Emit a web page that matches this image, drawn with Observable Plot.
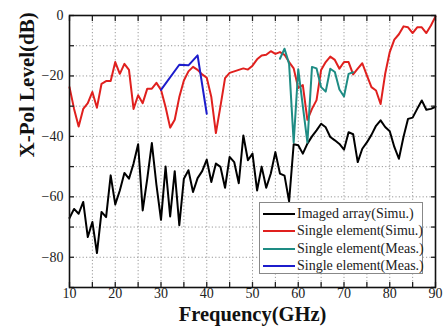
<!DOCTYPE html>
<html>
<head>
<meta charset="utf-8">
<script src="https://cdn.jsdelivr.net/npm/d3@7"></script>
<script src="https://cdn.jsdelivr.net/npm/@observablehq/plot@0.6"></script>
<style>
  body { margin: 0; background: #fff; }
  #wrap { position: relative; width: 445px; height: 330px; }
  #legend {
    position: absolute; left: 259px; top: 202px; width: 164px; height: 72px;
    border: 1.5px solid #888; background: #fff; box-sizing: border-box;
    font-family: "Liberation Serif", "Times New Roman", Times, serif; font-size: 14px; color: #222;
    padding-top: 2px;
  }
  .row { display: flex; align-items: center; height: 17.5px; white-space: nowrap; }
  .sw { width: 32px; height: 2px; margin-left: 3px; margin-right: 2px; flex: none; }
</style>
</head>
<body>
<div id="wrap"><div id="legend"></div></div>
<script>
const freqAll = d3.range(10, 91);
const imagedArray = [-67, -64, -65.6, -61.7, -73.3, -68.3, -78.6, -65, -66.7, -52.9,
  -62.5, -57.9, -52.1, -54, -49, -42.6, -64.5, -54, -42.2, -56,
  -67.6, -50, -66.5, -51.5, -69.4, -54, -51.2, -58.4, -53.8, -51.5,
  -47.7, -55.1, -49, -50.1, -57, -46.8, -48.5, -55.5, -39.7, -47.9,
  -45.7, -57.9, -50, -57, -52.3, -45.2, -52.3, -53, -61.5, -42.6,
  -42.9, -45.7, -42.4, -40, -38, -35.8, -37, -40.2, -41.3, -42.5,
  -44.4, -38.6, -39.3, -48.5, -44.1, -42, -39.5, -36.5, -34.7, -36.9,
  -38.3, -43.5, -47.4, -40.2, -34.2, -33.8, -30.9, -28.1, -31.2, -30.9, -30.2];
const singleSimu = [-23.7, -30.9, -36.7, -30.9, -29, -25.3, -30.5, -22.6, -21.7, -21.7,
  -15.4, -19.3, -16, -18, -30.9, -26.4, -29, -24.2, -24.2, -22.3,
  -24.6, -30.3, -37.1, -34.5, -27, -21.5, -18.5, -17, -18, -19.5,
  -20.6, -27, -38.9, -30, -20.7, -19, -18.5, -18, -17.5, -17.9,
  -16.6, -14.5, -13.2, -13, -11.8, -12.7, -12.1, -13, -15.4, -17.5,
  -24, -23, -34.5, -30.9, -28, -18, -15.4, -13.6, -14.7, -17.6,
  -15.4, -15.4, -19.5, -17.6, -15.8, -19.8, -23.7, -24.8, -29.3, -19.3,
  -12.1, -8, -6.2, -3.6, -3.9, -5.8, -3.9, -3.9, -5.8, -3.3, -0.3];
const freqMeasV = [56, 57, 58, 59, 60, 61, 62, 63, 64, 65, 66, 67, 68, 69, 70, 71, 72];
const measV = [-14.3, -11, -16, -42, -17.8, -30, -42, -17, -17.5, -23.7, -25.2, -17.6, -18.7, -24.5, -26.8, -19.3, -18.8];
const freqMeasB = [30, 34, 36, 38, 40];
const measB = [-24.6, -16.3, -16.5, -13.2, -32.5];

const seriesNames = ["Imaged array(Simu.)", "Single element(Simu.)", "Single element(Meas.)", "Single element(Meas.)"];
const seriesColors = ["#000000", "#e0201e", "#1e8c84", "#1c1ccc"];
const xTicks = d3.range(10, 91, 5);
const xLabels = d3.range(10, 91, 10);
const yTicks = d3.range(-90, 1, 10);
const yLabels = d3.range(-80, 1, 20);
const xLabel = "Frequency(GHz)";
const yLabel = "X-Pol Level(dB)";

const toRows = (xs, ys) => xs.map((x, i) => ({x, y: ys[i]}));
const sets = [toRows(freqAll, imagedArray), toRows(freqAll, singleSimu), toRows(freqMeasV, measV), toRows(freqMeasB, measB)];

const font = "'Liberation Serif', 'Times New Roman', Times, serif";
const noLabel = () => "";
const chart = Plot.plot({
  width: 445, height: 330,
  marginLeft: 69, marginRight: 10, marginTop: 15, marginBottom: 43,
  style: {fontFamily: font, background: "#fff", color: "#222"},
  x: {domain: [10, 90]},
  y: {domain: [-90, 0]},
  marks: [
    Plot.ruleX(xTicks.filter(d => d > 10 && d < 90), {stroke: "#999", strokeDasharray: "1.2,2.2", strokeWidth: 1}),
    Plot.ruleY(yTicks.filter(d => d > -90 && d < 0), {stroke: "#999", strokeDasharray: "1.2,2.2", strokeWidth: 1}),
    ...sets.map((s, i) => Plot.line(s, {x: "x", y: "y", stroke: seriesColors[i], strokeWidth: 2, strokeLinejoin: "round"})),
    Plot.axisX({anchor: "bottom", ticks: xTicks, tickSize: -5, tickFormat: noLabel, label: null, strokeWidth: 1.3}),
    Plot.axisX({anchor: "bottom", ticks: xLabels, tickSize: 0, tickPadding: 1, fontSize: 14, fontFamily: font, label: null}),
    Plot.axisX({anchor: "top", ticks: xTicks, tickSize: -5, tickFormat: noLabel, label: null, strokeWidth: 1.3}),
    Plot.axisY({anchor: "left", ticks: yTicks, tickSize: -5, tickFormat: noLabel, label: null, strokeWidth: 1.3}),
    Plot.axisY({anchor: "left", ticks: yLabels, tickSize: 0, tickPadding: 6, fontSize: 14, fontFamily: font, label: null}),
    Plot.axisY({anchor: "right", ticks: yTicks, tickSize: -5, tickFormat: noLabel, label: null, strokeWidth: 1.3}),
    Plot.frame({stroke: "#111", strokeWidth: 1.6}),
    Plot.text([xLabel], {text: d => d, frameAnchor: "bottom", dy: 33.5, fontSize: 20.5, fontWeight: "bold", fontFamily: font, fill: "#111"}),
    Plot.text([yLabel], {text: d => d, frameAnchor: "left", dx: -42, dy: 6, rotate: -90, fontSize: 21, fontWeight: "bold", fontFamily: font, fill: "#111"})
  ]
});
document.getElementById("wrap").prepend(chart);
const leg = document.getElementById("legend");
seriesNames.forEach((n, i) => {
  const r = document.createElement("div"); r.className = "row";
  const sw = document.createElement("div"); sw.className = "sw"; sw.style.background = seriesColors[i];
  const t = document.createElement("span"); t.textContent = n;
  r.append(sw, t); leg.append(r);
});
</script>
</body>
</html>
